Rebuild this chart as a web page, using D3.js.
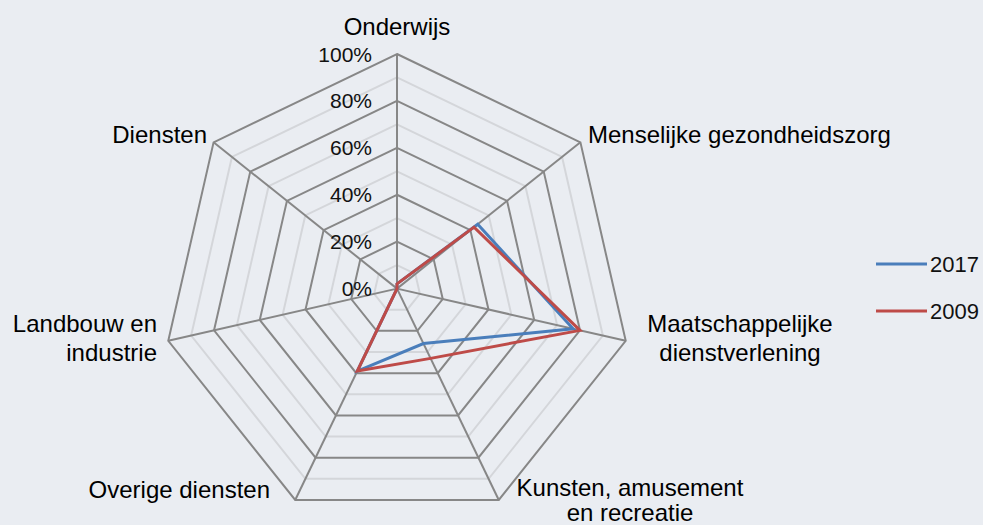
<!DOCTYPE html>
<html lang="nl">
<head>
<meta charset="UTF-8">
<title>Radar</title>
<script src="https://d3js.org/d3.v7.min.js"></script>
<style>
  body { margin: 0; background: #eaedf2; }
  svg { display: block; font-family: "Liberation Sans", Arial, sans-serif; }
</style>
</head>
<body>
<svg id="chart" width="983" height="525"></svg>
<script>
// data
const categories = ["Onderwijs", "Menselijke gezondheidszorg", "Maatschappelijke dienstverlening",
  "Kunsten, amusement en recreatie", "Overige diensten", "Landbouw en industrie", "Diensten"];
const values2017 = [0.02, 0.44, 0.77, 0.26, 0.39, 0, 0];
const values2009 = [0.02, 0.42, 0.80, 0.33, 0.39, 0, 0];
const seriesNames = ["2017", "2009"];
const tickValues = [0, 0.2, 0.4, 0.6, 0.8, 1];

const svg = d3.select("#chart");
const cx = 397, cy = 288.6, R = 234.6;
const n = categories.length;
const r = d3.scaleLinear().domain([0, 1]).range([0, R]);
const angle = i => i * 2 * Math.PI / n;
const colors = ["#4a7ebb", "#be4b48"];

const g = svg.append("g").attr("transform", `translate(${cx},${cy})`);

const ring = v => d3.lineRadial().angle((d, i) => angle(i)).radius(() => r(v)).curve(d3.curveLinearClosed)(categories);

// minor rings
d3.range(0.1, 1, 0.2).forEach(v => {
  g.append("path").attr("d", ring(v)).attr("fill", "none")
    .attr("stroke", "#d4d6da").attr("stroke-width", 2);
});
// major rings
tickValues.slice(1).forEach(v => {
  g.append("path").attr("d", ring(v)).attr("fill", "none")
    .attr("stroke", "#878787").attr("stroke-width", 2);
});
// spokes
categories.forEach((c, i) => {
  g.append("line")
    .attr("x1", 0).attr("y1", 0)
    .attr("x2", r(1) * Math.sin(angle(i))).attr("y2", -r(1) * Math.cos(angle(i)))
    .attr("stroke", "#878787").attr("stroke-width", 2);
});

// tick labels
g.selectAll(".tick").data(tickValues).enter().append("text")
  .attr("x", -25).attr("y", d => -r(d))
  .attr("dy", "0.36em")
  .attr("text-anchor", "end")
  .attr("font-size", 21).attr("fill", "#111")
  .text(d => d3.format(".0%")(d));

// series
const radar = d3.lineRadial().angle((d, i) => angle(i)).radius(d => r(d)).curve(d3.curveLinearClosed);
[values2017, values2009].forEach((vals, k) => {
  g.append("path").attr("d", radar(vals)).attr("fill", "none")
    .attr("stroke", colors[k]).attr("stroke-width", 3).attr("stroke-linejoin", "miter");
});

// category labels
const labelLayout = [
  { lines: ["Onderwijs"], x: 397, y: 35, anchor: "middle", lh: 29 },
  { lines: ["Menselijke gezondheidszorg"], x: 588, y: 143, anchor: "start", lh: 29 },
  { lines: ["Maatschappelijke", "dienstverlening"], x: 740, y: 332, anchor: "middle", lh: 29 },
  { lines: ["Kunsten, amusement", "en recreatie"], x: 630, y: 496, anchor: "middle", lh: 25 },
  { lines: ["Overige diensten"], x: 270, y: 498, anchor: "end", lh: 29 },
  { lines: ["Landbouw en", "industrie"], x: 157, y: 332, anchor: "end", lh: 29 },
  { lines: ["Diensten"], x: 207, y: 143, anchor: "end", lh: 29 }
];
labelLayout.forEach(l => {
  const t = svg.append("text").attr("font-size", 24).attr("fill", "#000")
    .attr("text-anchor", l.anchor);
  l.lines.forEach((s, j) => {
    t.append("tspan").attr("x", l.x).attr("y", l.y + j * l.lh).text(s);
  });
});

// legend
seriesNames.forEach((s, k) => {
  const y = 264 + k * 47;
  svg.append("line").attr("x1", 876).attr("x2", 927).attr("y1", y).attr("y2", y)
    .attr("stroke", colors[k]).attr("stroke-width", 3);
  svg.append("text").attr("x", 930).attr("y", y).attr("dy", "0.36em")
    .attr("font-size", 22).attr("fill", "#111").text(s);
});
</script>
</body>
</html>
